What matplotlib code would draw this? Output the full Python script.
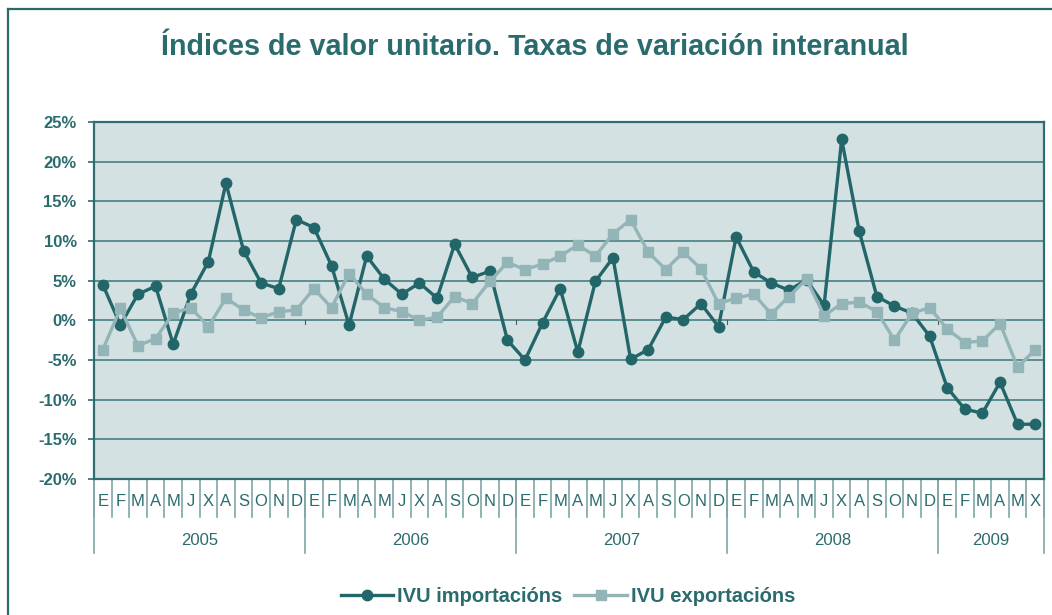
import numpy as np
import matplotlib
matplotlib.use("Agg")
import matplotlib.pyplot as plt
from matplotlib.lines import Line2D
import matplotlib.transforms as mtransforms

# data: year-on-year change (%) of unit value indices, Jan 2005 - Jun 2009
years = ["2005", "2006", "2007", "2008", "2009"]
months_full = ["E", "F", "M", "A", "M", "J", "X", "A", "S", "O", "N", "D"]
months_2009 = ["E", "F", "M", "A", "M", "X"]
month_labels = months_full * 4 + months_2009

ivu_imp = [4.5, -0.6, 3.3, 4.3, -3.0, 3.3, 7.4, 17.3, 8.8, 4.7, 4.0, 12.7,
           11.7, 6.9, -0.6, 8.1, 5.2, 3.3, 4.7, 2.8, 9.6, 5.4, 6.2, -2.5,
           -5.0, -0.3, 4.0, -4.0, 4.9, 7.9, -4.9, -3.7, 0.4, 0.1, 2.1, -0.8,
           10.5, 6.1, 4.7, 3.8, 5.1, 1.9, 22.8, 11.2, 3.0, 1.8, 0.9, -2.0,
           -8.5, -11.2, -11.7, -7.8, -13.1, -13.1]
ivu_exp = [-3.7, 1.5, -3.2, -2.3, 0.9, 1.6, -0.8, 2.8, 1.3, 0.3, 1.1, 1.3,
           4.0, 1.6, 5.9, 3.3, 1.6, 1.1, 0.0, 0.4, 3.0, 2.1, 4.9, 7.3,
           6.4, 7.1, 8.1, 9.5, 8.1, 10.9, 12.7, 8.6, 6.4, 8.6, 6.5, 2.1,
           2.8, 3.3, 0.8, 3.0, 5.2, 0.6, 2.1, 2.3, 1.1, -2.5, 0.9, 1.6,
           -1.1, -2.8, -2.6, -0.4, -5.9, -3.7]

dark = "#236669"
light = "#94b5b7"
txt = "#2a6b6e"
bg = "#d4e1e2"

plt.rcParams['font.family'] = ['Liberation Sans', 'DejaVu Sans']

fig = plt.figure(figsize=(10.52, 6.15), dpi=100)
ax = fig.add_axes([94/1052, 1 - 479/615, 950/1052, 357/615])
ax.set_facecolor(bg)

x = np.arange(len(ivu_imp))
ax.plot(x, ivu_imp, color=dark, lw=2.4, marker="o", ms=7.5, zorder=3,
        label="IVU importacións")
ax.plot(x, ivu_exp, color=light, lw=2.4, marker="s", ms=7, zorder=4,
        label="IVU exportacións")

ax.set_xlim(-0.5, len(x) - 0.5)
ax.set_ylim(-20, 25)
yt = np.arange(-20, 26, 5)
ax.set_yticks(yt)
ax.set_yticklabels([f"{v}%" for v in yt], fontsize=12, fontweight="bold", color=txt)
ax.tick_params(axis="y", direction="out", length=4.5, width=1.2, color=txt, pad=8)
ax.set_xticks([])
ax.yaxis.grid(True, color="#3b7679", lw=1.1)
ax.set_axisbelow(True)
for s in ax.spines.values():
    s.set_color("#2e6e71")
    s.set_linewidth(1.6)

# small marks on the zero line at year boundaries
bounds = [12, 24, 36, 48]
for b in bounds:
    ax.plot([b - 0.5, b - 0.5], [0, -0.5], color="#555555", lw=0.8, zorder=2)

# category axis: months and years under the plot
trans = mtransforms.blended_transform_factory(ax.transData, ax.transAxes)
for i, m in enumerate(month_labels):
    ax.text(i, -0.064, m, transform=trans, ha="center", va="center",
            fontsize=12, color=txt, family=['Liberation Sans Narrow', 'Liberation Sans'])
for k in range(len(x) + 1):
    ax.plot([k - 0.5, k - 0.5], [0, -0.107], transform=trans, color="#7fa6a8",
            lw=1.2, clip_on=False)
year_edges = [0, 12, 24, 36, 48, 54]
for k in year_edges:
    ax.plot([k - 0.5, k - 0.5], [0, -0.207], transform=trans, color="#7fa6a8",
            lw=1.2, clip_on=False)
for j, y in enumerate(years):
    mid = (year_edges[j] + year_edges[j + 1] - 1) / 2
    ax.text(mid, -0.171, y, transform=trans, ha="center", va="center",
            fontsize=12, color=txt)

fig.text(535/1052, 1 - 47/615, "Índices de valor unitario. Taxas de variación interanual",
         ha="center", va="center", fontsize=20.7, fontweight="bold", color=txt)

leg = fig.legend(loc="center", bbox_to_anchor=(568/1052, 1 - 597/615), ncol=2,
                 frameon=False, handlelength=2.6, handletextpad=0.2,
                 columnspacing=0.6, prop={"weight": "bold", "size": 14.5})
for t in leg.get_texts():
    t.set_color(txt)

# outer chart frame (left and top edges visible)
fig.add_artist(Line2D([8/1052, 8/1052], [0, 1 - 9/615], color="#2a6a6d", lw=1.6))
fig.add_artist(Line2D([8/1052, 1], [1 - 9/615, 1 - 9/615], color="#2a6a6d", lw=1.6))

fig.savefig("out.png", dpi=100)
